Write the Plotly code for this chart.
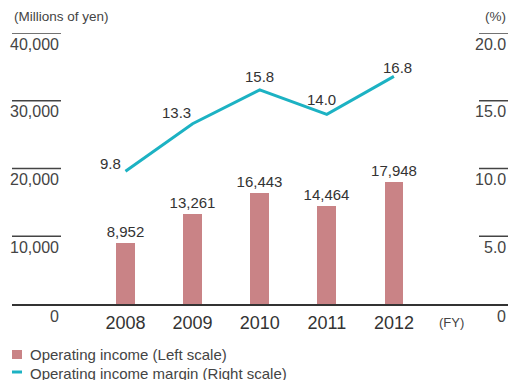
import plotly.graph_objects as go

# Fiscal years and values
years = [2008, 2009, 2010, 2011, 2012]
operating_income = [8952, 13261, 16443, 14464, 17948]          # millions of yen
operating_margin = [9.8, 13.3, 15.8, 14.0, 16.8]               # percent

left_ticks = [0, 10000, 20000, 30000, 40000]
left_tick_text = ["0", "10,000", "20,000", "30,000", "40,000"]
right_ticks = [0, 5, 10, 15, 20]
right_tick_text = ["0", "5.0", "10.0", "15.0", "20.0"]

BAR_COLOR = "#c98386"
LINE_COLOR = "#1cb2c3"
TEXT_COLOR = "#333333"
AXIS_COLOR = "#444444"
FONT = "Liberation Sans, Arial, sans-serif"

fig = go.Figure()

fig.add_trace(go.Bar(
    x=years,
    y=operating_income,
    width=0.28,
    marker=dict(color=BAR_COLOR, line=dict(width=0)),
    text=[f"{v:,}" for v in operating_income],
    textposition="outside",
    constraintext="none",
    cliponaxis=False,
    textfont=dict(family=FONT, size=15, color=TEXT_COLOR),
    showlegend=False,
    yaxis="y",
))

fig.add_trace(go.Scatter(
    x=years,
    y=operating_margin,
    mode="lines",
    line=dict(color=LINE_COLOR, width=3),
    cliponaxis=False,
    showlegend=False,
    yaxis="y2",
))

shapes = []
annotations = []

# Margin value labels, nudged off the line
label_place = [
    dict(xanchor="right", xshift=-2, yshift=8),
    dict(xanchor="right", xshift=0, yshift=11),
    dict(xanchor="center", xshift=0, yshift=13),
    dict(xanchor="center", xshift=-5, yshift=15),
    dict(xanchor="center", xshift=4, yshift=9),
]
for yr, v, p in zip(years, operating_margin, label_place):
    annotations.append(dict(xref="x", yref="y2", x=yr, y=v,
                            text=f"{v:.1f}", showarrow=False,
                            yanchor="middle",
                            font=dict(family=FONT, size=15, color=TEXT_COLOR),
                            **p))

# Left scale: short rule above each label
for v, t in zip(left_ticks, left_tick_text):
    if v > 0:
        shapes.append(dict(type="line", xref="paper", yref="y",
                           x0=0, x1=49 / 496, y0=v, y1=v,
                           line=dict(color=AXIS_COLOR, width=1.5)))
    annotations.append(dict(xref="paper", yref="y", x=49 / 496, y=v,
                            text=t, showarrow=False, xanchor="right",
                            yanchor="middle", yshift=-11 if v > 0 else -12,
                            font=dict(family=FONT, size=16, color=AXIS_COLOR)))

# Right scale
for v, t in zip(right_ticks, right_tick_text):
    if v > 0:
        shapes.append(dict(type="line", xref="paper", yref="y2",
                           x0=467 / 496, x1=1.0, y0=v, y1=v,
                           line=dict(color=AXIS_COLOR, width=1.5)))
    annotations.append(dict(xref="paper", yref="y2", x=1.0, y=v,
                            text=t, showarrow=False, xanchor="right",
                            yanchor="middle", yshift=-11 if v > 0 else -12,
                            font=dict(family=FONT, size=16, color=AXIS_COLOR)))

# Unit captions
annotations.append(dict(xref="paper", yref="paper", x=0, y=1, yshift=17,
                        text="(Millions of yen)", showarrow=False,
                        xanchor="left", yanchor="middle",
                        font=dict(family=FONT, size=13.5, color=AXIS_COLOR)))
annotations.append(dict(xref="paper", yref="paper", x=1.0, y=1, yshift=17,
                        text="(%)", showarrow=False,
                        xanchor="right", yanchor="middle",
                        font=dict(family=FONT, size=13.5, color=AXIS_COLOR)))
annotations.append(dict(xref="paper", yref="paper", x=439 / 496, y=0, yshift=-18,
                        text="(FY)", showarrow=False,
                        xanchor="center", yanchor="middle",
                        font=dict(family=FONT, size=13, color=AXIS_COLOR)))

# Legend
legend_items = [
    ("bar", "Operating income (Left scale)"),
    ("line", "Operating income margin (Right scale)"),
]
for i, (kind, label) in enumerate(legend_items):
    cy = -50 - 19 * i  # pixels below the plot bottom
    if kind == "bar":
        shapes.append(dict(type="rect", xref="paper", yref="paper",
                           x0=0, x1=10 / 496, ysizemode="pixel", yanchor=0,
                           y0=cy - 5, y1=cy + 4,
                           line=dict(width=0), fillcolor=BAR_COLOR))
    else:
        shapes.append(dict(type="line", xref="paper", yref="paper",
                           x0=0, x1=10 / 496, ysizemode="pixel", yanchor=0,
                           y0=cy + 1, y1=cy + 1,
                           line=dict(color=LINE_COLOR, width=3)))
    annotations.append(dict(xref="paper", yref="paper", x=16 / 496, y=0,
                            yshift=cy, text=label, showarrow=False,
                            xanchor="left", yanchor="middle",
                            font=dict(family=FONT, size=15, color=AXIS_COLOR)))

fig.update_layout(
    width=511, height=380,
    margin=dict(l=12, r=3, t=33, b=76),
    paper_bgcolor="white", plot_bgcolor="white",
    bargap=0,
    xaxis=dict(
        range=[2006.309, 2013.70],
        tickvals=years,
        ticktext=[str(y) for y in years],
        showgrid=False, zeroline=False,
        showline=True, linecolor="#333333", linewidth=1.5,
        ticks="", ticklabelstandoff=2,
        tickfont=dict(family=FONT, size=18, color=TEXT_COLOR),
        fixedrange=True,
    ),
    yaxis=dict(range=[0, 40000], showticklabels=False, showgrid=False,
               zeroline=False, ticks="", fixedrange=True),
    yaxis2=dict(range=[0, 20], overlaying="y", side="right",
                showticklabels=False, showgrid=False, zeroline=False,
                ticks="", fixedrange=True),
    shapes=shapes,
    annotations=annotations,
    showlegend=False,
)

fig.write_html("out.html")
